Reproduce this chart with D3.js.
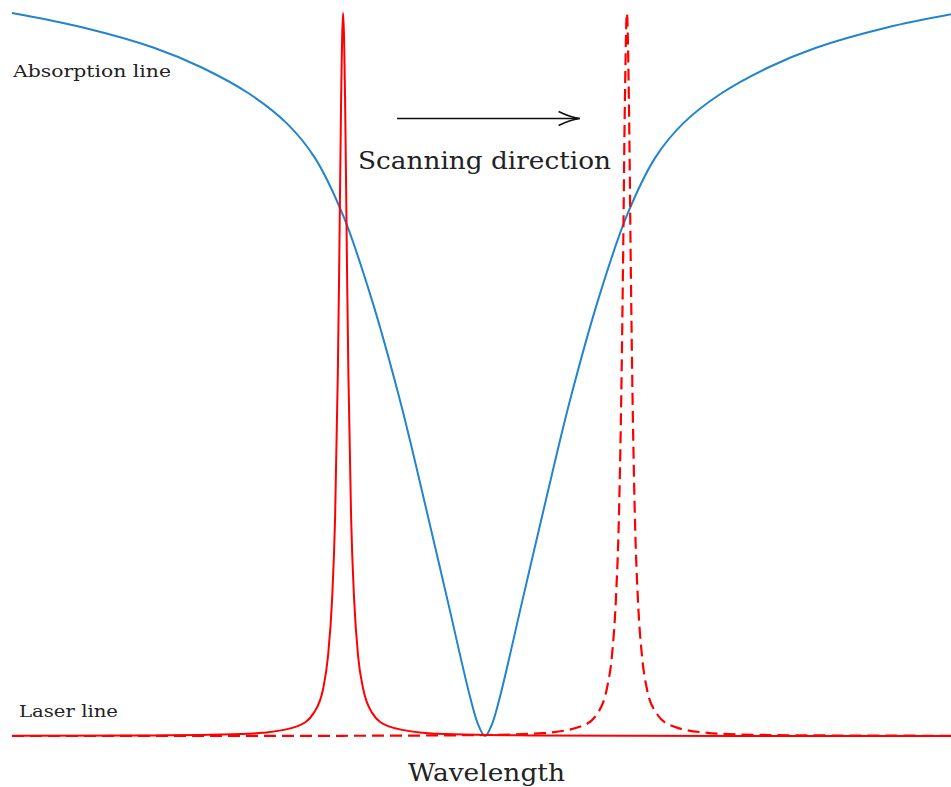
<!DOCTYPE html>
<html>
<head>
<meta charset="utf-8">
<script src="https://cdn.jsdelivr.net/npm/d3@7"></script>
<style>
  html, body { margin: 0; padding: 0; background: #ffffff; }
  svg { display: block; }
</style>
</head>
<body>
<svg id="chart" width="951" height="787"></svg>
<script>
// ---- Data (arbitrary wavelength units, line centre at 0) ----
const absorptionX = [-5.0, -4.25, -3.5, -3.0, -2.5, -2.1, -1.8, -1.5, -1.2, -0.9, -0.65, -0.4, -0.15, -0.07, 0,
                     0.07, 0.15, 0.4, 0.65, 0.9, 1.2, 1.5, 1.8, 2.1, 2.5, 3.0, 3.5, 4.25, 5.0];
const absorptionY = [1.0, 0.980, 0.952, 0.925, 0.889, 0.848, 0.80, 0.72, 0.605, 0.465, 0.33, 0.19, 0.05, 0.015, 0,
                     0.015, 0.05, 0.19, 0.33, 0.465, 0.605, 0.72, 0.80, 0.848, 0.889, 0.925, 0.952, 0.980, 1.0];

const laserStartX = [-5.0, -3.5, -3.0, -2.5, -2.35, -1.98, -1.81, -1.71, -1.66, -1.616, -1.585, -1.556, -1.542, -1.521, -1.5,
                     -1.479, -1.458, -1.444, -1.415, -1.384, -1.341, -1.289, -1.193, -1.024, -0.654, -0.5, 0, 0.5, 1.5, 3.0, 5.0];
const laserStartY = [0.0003, 0.0008, 0.0014, 0.0031, 0.0044, 0.0137, 0.032, 0.066, 0.11, 0.19, 0.30, 0.5, 0.64, 0.88, 1.0,
                     0.88, 0.64, 0.5, 0.30, 0.19, 0.11, 0.066, 0.032, 0.0137, 0.0044, 0.0031, 0.0014, 0.0008, 0.0003, 0.0001, 0.0];

const laserEndX = [-5.0, -3.0, -1.5, -0.5, 0, 0.5, 0.654, 1.024, 1.193, 1.289, 1.341, 1.384, 1.415, 1.444, 1.458, 1.479, 1.5,
                   1.521, 1.542, 1.556, 1.585, 1.616, 1.66, 1.71, 1.81, 1.98, 2.35, 2.5, 3.0, 3.5, 5.0];
const laserEndY = [0.0, 0.0001, 0.0003, 0.0008, 0.0014, 0.0031, 0.0044, 0.0137, 0.032, 0.066, 0.11, 0.19, 0.30, 0.5, 0.64, 0.88, 1.0,
                   0.88, 0.64, 0.5, 0.30, 0.19, 0.11, 0.066, 0.032, 0.0137, 0.0044, 0.0031, 0.0014, 0.0008, 0.0003];

const labels = {
  absorption: "Absorption line",
  laser: "Laser line",
  scan: "Scanning direction",
  xAxis: "Wavelength"
};

// ---- Drawing ----
const svg = d3.select("#chart");
const x = d3.scaleLinear().domain([-5, 5]).range([12, 958]);
const y = d3.scaleLinear().domain([0, 1]).range([736, 13]);

const zip = (a, b) => a.map((v, i) => [v, b[i]]);

const smoothLine = d3.line()
  .x(d => x(d[0]))
  .y(d => y(d[1]))
  .curve(d3.curveCatmullRom.alpha(0.5));

const peakLine = d3.line()
  .x(d => x(d[0]))
  .y(d => y(d[1]))
  .curve(d3.curveMonotoneX);

svg.append("path")
  .attr("d", smoothLine(zip(absorptionX, absorptionY)))
  .attr("fill", "none")
  .attr("stroke", "#2284cf")
  .attr("stroke-width", 2);

svg.append("path")
  .attr("d", peakLine(zip(laserStartX, laserStartY)))
  .attr("fill", "none")
  .attr("stroke", "#ff0000")
  .attr("stroke-width", 2);

svg.append("path")
  .attr("d", peakLine(zip(laserEndX, laserEndY)))
  .attr("fill", "none")
  .attr("stroke", "#ff0000")
  .attr("stroke-width", 2.2)
  .attr("stroke-dasharray", "12,6");

// Scanning arrow
const arrowFrom = -0.93, arrowTo = 1.0, arrowLevel = 0.854;
const ax0 = x(arrowFrom), ax1 = x(arrowTo), ay = y(arrowLevel);
svg.append("line")
  .attr("x1", ax0).attr("y1", ay).attr("x2", ax1).attr("y2", ay)
  .attr("stroke", "#111").attr("stroke-width", 1.6);
svg.append("path")
  .attr("d", `M${ax1 - 21},${ay - 7} Q${ax1 - 10},${ay - 1.5} ${ax1},${ay} Q${ax1 - 10},${ay + 1.5} ${ax1 - 21},${ay + 7}`)
  .attr("fill", "none").attr("stroke", "#111").attr("stroke-width", 1.6);

const font = "'DejaVu Serif', 'Liberation Serif', serif";
function label(text, x0, baseline, size, width) {
  svg.append("text")
    .attr("x", x0).attr("y", baseline)
    .attr("font-family", font)
    .attr("font-size", size)
    .attr("fill", "#222")
    .attr("textLength", width)
    .attr("lengthAdjust", "spacingAndGlyphs")
    .text(text);
}
label(labels.absorption, 13, 77, 17, 158);
label(labels.laser, 19, 717, 17, 99);
label(labels.scan, 358, 169, 25, 253);
label(labels.xAxis, 408, 781, 25, 157);
</script>
</body>
</html>
